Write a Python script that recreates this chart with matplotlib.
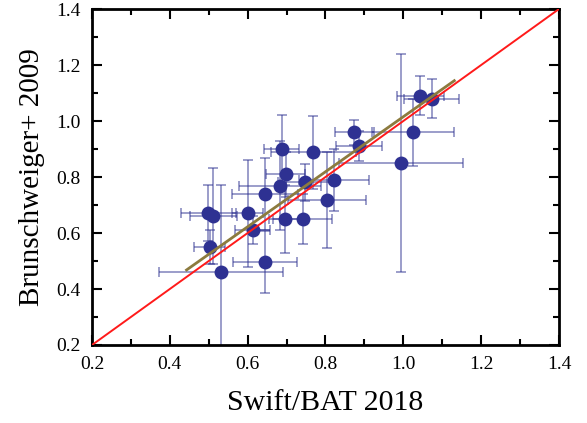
import numpy as np
import matplotlib
matplotlib.use('Agg')
import matplotlib.pyplot as plt
from matplotlib.ticker import MultipleLocator

plt.rcParams['font.family'] = ['Liberation Serif', 'DejaVu Serif']
plt.rcParams['mathtext.fontset'] = 'stix'

# Swift/BAT 2018 vs Brunschweiger+ 2009
bat_x  = [0.499, 0.512, 0.503, 0.531, 0.645, 0.600, 0.645, 0.613, 0.683, 0.698, 0.687, 0.769,
          0.696, 0.741, 0.747, 0.823, 0.803, 0.874, 0.886, 1.024, 0.994, 1.044, 1.073]
brun_y = [0.670, 0.661, 0.551, 0.460, 0.497, 0.670, 0.739, 0.611, 0.769, 0.810, 0.900, 0.888,
          0.650, 0.650, 0.781, 0.789, 0.718, 0.960, 0.911, 0.960, 0.849, 1.090, 1.079]
bat_err  = [0.070, 0.060, 0.040, 0.160, 0.083, 0.040, 0.085, 0.045, 0.105, 0.050, 0.046, 0.110,
            0.040, 0.075, 0.070, 0.090, 0.100, 0.050, 0.060, 0.105, 0.160, 0.060, 0.070]
brun_err = [0.100, 0.170, 0.060, 0.310, 0.110, 0.190, 0.130, 0.050, 0.160, 0.080, 0.120, 0.130,
            0.120, 0.090, 0.066, 0.110, 0.170, 0.045, 0.055, 0.120, 0.390, 0.070, 0.070]

# linear fit endpoints
fit_x = [0.443, 1.131]
fit_y = [0.468, 1.144]

fig = plt.figure(figsize=(5.87, 4.23), dpi=100)
ax = fig.add_axes([0.1567, 0.1844, 0.7956, 0.7943])

ax.errorbar(bat_x, brun_y, xerr=bat_err, yerr=brun_err, fmt='none',
            ecolor=(0.17, 0.18, 0.56, 0.55), elinewidth=1.2, capsize=3.5, capthick=1.2, zorder=2)
ax.plot(bat_x, brun_y, 'o', color='#2e3192', markersize=10, markeredgewidth=0, zorder=3)

ax.plot([0.2, 1.4], [0.2, 1.4], color='#ff1a1a', lw=1.4, zorder=4)
ax.plot(fit_x, fit_y, color='#8c7b3e', lw=2.0, zorder=5)

ax.set_xlim(0.2, 1.4)
ax.set_ylim(0.2, 1.4)
ax.xaxis.set_major_locator(MultipleLocator(0.2))
ax.yaxis.set_major_locator(MultipleLocator(0.2))
ax.xaxis.set_minor_locator(MultipleLocator(0.1))
ax.yaxis.set_minor_locator(MultipleLocator(0.1))
ax.xaxis.set_major_formatter(plt.FormatStrFormatter('%.1f'))
ax.yaxis.set_major_formatter(plt.FormatStrFormatter('%.1f'))

ax.tick_params(which='both', direction='in', top=True, right=True, width=1.5, labelsize=14)
ax.tick_params(which='major', length=7, pad=8)
ax.tick_params(which='minor', length=4)
for sp in ax.spines.values():
    sp.set_linewidth(2)

ax.set_xlabel('Swift/BAT 2018', fontsize=21.5, labelpad=12)
ax.set_ylabel('Brunschweiger+ 2009', fontsize=21, labelpad=8)

plt.savefig('out.png', dpi=100)
